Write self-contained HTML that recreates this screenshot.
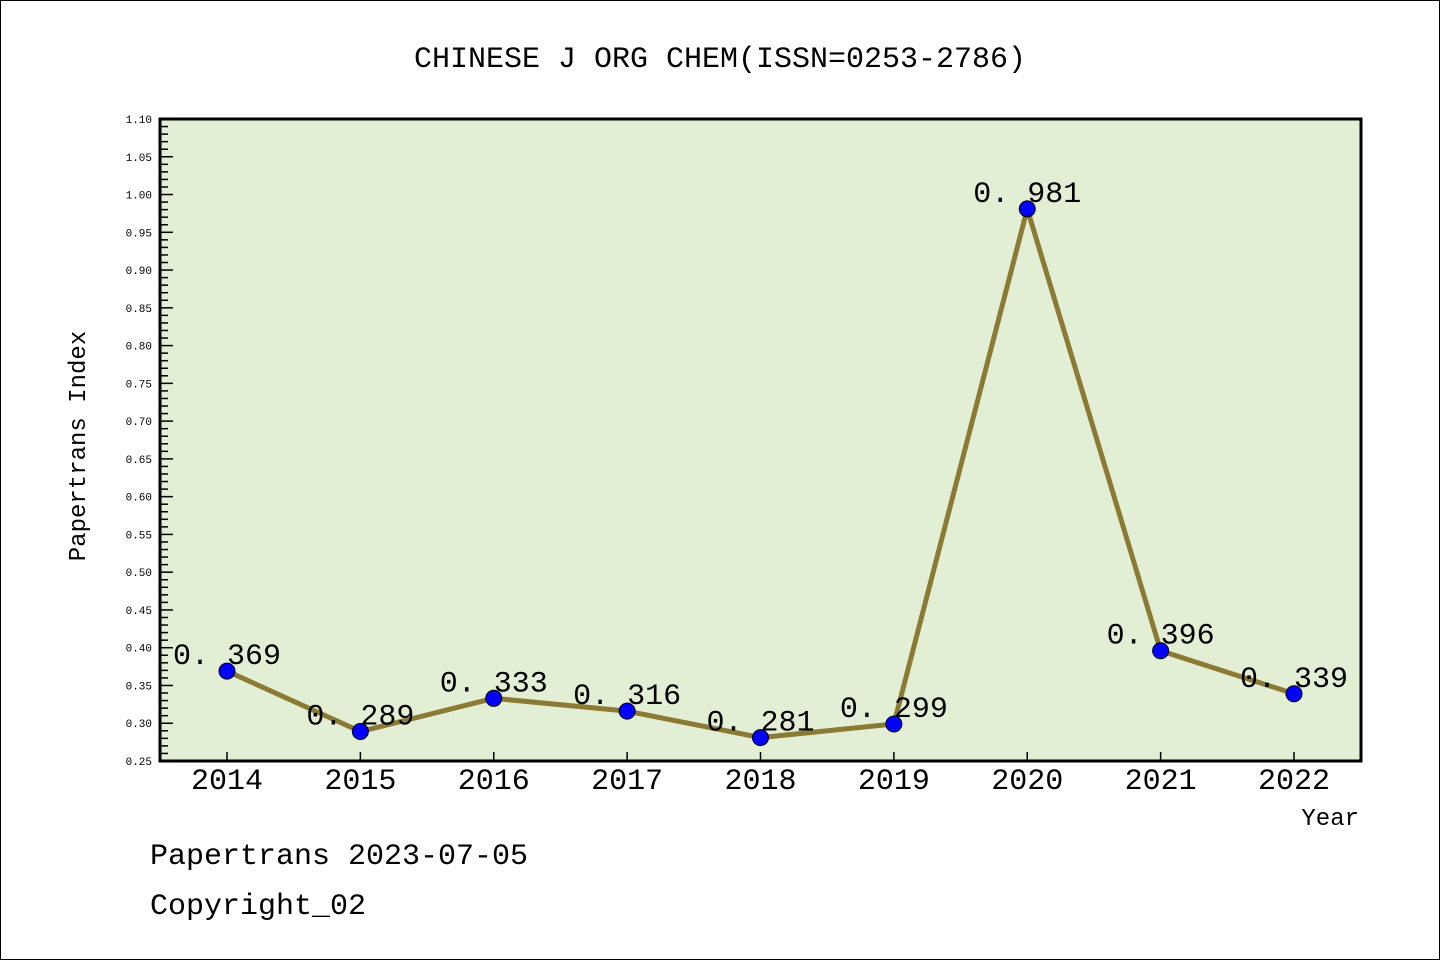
<!DOCTYPE html>
<html><head><meta charset="utf-8"><style>
body{margin:0;background:#fff}
svg text{font-family:"Liberation Mono","DejaVu Sans Mono",monospace}
</style></head><body>
<svg width="1440" height="960" xmlns="http://www.w3.org/2000/svg">
<rect x="0.5" y="0.5" width="1439" height="959" fill="#fff" stroke="#000"/>
<text x="720" y="67" font-size="30" text-anchor="middle">CHINESE J ORG CHEM(ISSN=0253-2786)</text>
<rect x="160" y="119" width="1201" height="642" fill="#e2efd5" stroke="#000" stroke-width="3"/>
<g id="yaxis"></g>
<g id="xaxis"></g>
<g id="series"></g>
<text transform="translate(85,446) rotate(-90)" font-size="24" text-anchor="middle">Papertrans Index</text>
<text x="1359" y="825" font-size="24" text-anchor="end">Year</text>
<text x="150" y="864" font-size="30">Papertrans 2023-07-05</text>
<text x="150" y="914" font-size="30">Copyright_02</text>
</svg>
<script>
const categories=["2014","2015","2016","2017","2018","2019","2020","2021","2022"];
const values=[0.369,0.289,0.333,0.316,0.281,0.299,0.981,0.396,0.339];
const valueLabels=["0.369","0.289","0.333","0.316","0.281","0.299","0.981","0.396","0.339"];
const NS="http://www.w3.org/2000/svg";
const y0=761,y1=119,vmin=0.25,vmax=1.10;
function yS(v){return y0-(v-vmin)/(vmax-vmin)*(y0-y1);}
function xS(i){return 227+i*(1294-227)/(categories.length-1);}
function mk(t,a,p,txt){const e=document.createElementNS(NS,t);for(const k in a)e.setAttribute(k,a[k]);if(txt!==undefined)e.textContent=txt;p.appendChild(e);return e;}
const ya=document.getElementById('yaxis');
for(let k=0;k<=85;k++){const v=vmin+k*0.01;const y=yS(v);const major=k%5===0;
 const l=mk('line',{x1:160,x2:major?173:168,y1:y,y2:y,stroke:'#000','stroke-width':1.5},ya);
 
 
 if(major){const t=mk('text',{x:152,y:y+4,'font-size':11,'text-anchor':'end','font-family':'DejaVu Sans'},ya,v.toFixed(2));
 
 }}
const xa=document.getElementById('xaxis');
categories.forEach((c,i)=>{const x=xS(i);
 const l=mk('line',{x1:x,x2:x,y1:752,y2:761,stroke:'#000','stroke-width':1.5},xa);
 
 
 const t=mk('text',{x:x,y:789,'font-size':30,'text-anchor':'middle','font-family':'DejaVu Sans'},xa,c);
 
 });
const s=document.getElementById('series');
const pl=mk('polyline',{points:values.map((v,i)=>xS(i)+','+yS(v)).join(' '),fill:'none',stroke:'#8b7a33','stroke-width':5},s);


values.forEach((v,i)=>{
 const c=mk('circle',{cx:xS(i),cy:yS(v),r:8,fill:'#0000ff',stroke:'#000','stroke-width':1},s);
 
 
 const t=mk('text',{x:xS(i),y:yS(v)-7,'font-size':30,'text-anchor':'middle'},s,valueLabels[i].replace('.','. '));
 
 });
</script>
</body></html>
